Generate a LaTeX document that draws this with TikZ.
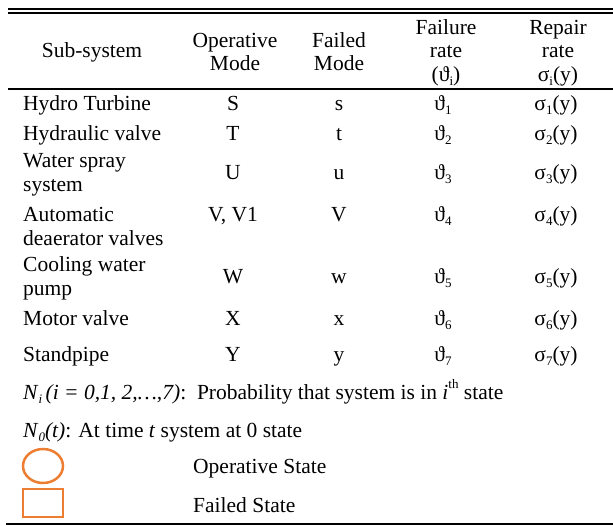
\documentclass[tikz,border=0pt]{standalone}
\usepackage{fontspec}
\usetikzlibrary{shapes.geometric}
\setmainfont{Liberation Serif}
\definecolor{legendorange}{HTML}{ED7D31}
\newcommand\sbx[1]{\raisebox{-0.22em}{\fontsize{13}{13}\selectfont #1}}
\newcommand\spx[1]{\raisebox{0.5em}{\fontsize{13}{13}\selectfont #1}}
\begin{document}
\begin{tikzpicture}[x=1pt,y=-1pt,
  txt/.style={inner sep=0pt, anchor=base, font=\fontsize{21.5}{24}\selectfont},
  lt/.style={txt, anchor=base west},
  rule/.style={line width=1.7pt},
  legend/.style={draw=legendorange, line width=2.5pt}]
\useasboundingbox (0,0) rectangle (613,525);
% rules
\coordinate (r1a) at (8,8.8);  \coordinate (r1b) at (613,8.8);
\coordinate (r2a) at (8,12.8); \coordinate (r2b) at (613,12.8);
\coordinate (r3a) at (8,89);   \coordinate (r3b) at (613,89);
\coordinate (r4a) at (6,523.7);\coordinate (r4b) at (613,523.7);
\draw[rule] (r1a) -- (r1b);
\draw[rule] (r2a) -- (r2b);
\draw[rule] (r3a) -- (r3b);
\draw[line width=2pt] (r4a) -- (r4b);
% header
\node[txt] (h1) at (92,57) {Sub-system};
\node[txt] (h2a) at (235,47) {Operative};
\node[txt] (h2b) at (235,70) {Mode};
\node[txt] (h3a) at (339,47) {Failed};
\node[txt] (h3b) at (339,70) {Mode};
\node[txt] (h4a) at (446,34) {Failure};
\node[txt] (h4b) at (446,57) {rate};
\node[txt] (h4c) at (446,81) {(ϑ\sbx{i})};
\node[txt] (h5a) at (558,34) {Repair};
\node[txt] (h5b) at (558,57) {rate};
\node[txt] (h5c) at (558,81) {σ\sbx{i}(y)};
% rows
\node[lt] (a1) at (23,110) {Hydro Turbine};
\node[lt] (a2) at (23,140) {Hydraulic valve};
\node[lt] (a3a) at (23,167) {Water spray};
\node[lt] (a3b) at (23,191) {system};
\node[lt] (a4a) at (23,221) {Automatic};
\node[lt] (a4b) at (23,245) {deaerator valves};
\node[lt] (a5a) at (23,271) {Cooling water};
\node[lt] (a5b) at (23,295) {pump};
\node[lt] (a6) at (23,325) {Motor valve};
\node[lt] (a7) at (23,361) {Standpipe};
% operative column
\node[txt] (b1) at (233,110) {S};
\node[txt] (b2) at (233,140) {T};
\node[txt] (b3) at (233,179) {U};
\node[txt] (b4) at (233,221) {V, V1};
\node[txt] (b5) at (233,283) {W};
\node[txt] (b6) at (233,325) {X};
\node[txt] (b7) at (233,361) {Y};
% failed column
\node[txt] (c1) at (339,110) {s};
\node[txt] (c2) at (339,140) {t};
\node[txt] (c3) at (339,179) {u};
\node[txt] (c4) at (339,221) {V};
\node[txt] (c5) at (339,283) {w};
\node[txt] (c6) at (339,325) {x};
\node[txt] (c7) at (339,361) {y};
% failure rate column
\node[txt] (d1) at (443,110) {ϑ\sbx{1}};
\node[txt] (d2) at (443,140) {ϑ\sbx{2}};
\node[txt] (d3) at (443,179) {ϑ\sbx{3}};
\node[txt] (d4) at (443,221) {ϑ\sbx{4}};
\node[txt] (d5) at (443,283) {ϑ\sbx{5}};
\node[txt] (d6) at (443,325) {ϑ\sbx{6}};
\node[txt] (d7) at (443,361) {ϑ\sbx{7}};
% repair rate column
\node[txt] (e1) at (556,110) {σ\sbx{1}(y)};
\node[txt] (e2) at (556,140) {σ\sbx{2}(y)};
\node[txt] (e3) at (556,179) {σ\sbx{3}(y)};
\node[txt] (e4) at (556,221) {σ\sbx{4}(y)};
\node[txt] (e5) at (556,283) {σ\sbx{5}(y)};
\node[txt] (e6) at (556,325) {σ\sbx{6}(y)};
\node[txt] (e7) at (556,361) {σ\sbx{7}(y)};
% notes
\node[lt] (n1) at (23,399) {\textit{N}\sbx{\textit{i}}\,\textit{(i = 0,1, 2,…,7)}:~~Probability that system is in \textit{i}\spx{th} state};
\node[lt] (n2) at (23,437) {\textit{N}\sbx{\textit{0}}\textit{(t)}: At time \textit{t} system at 0 state};
% legend
\node[legend, ellipse, minimum width=40pt, minimum height=34pt, inner sep=0pt] (op) at (43,466) {};
\node[legend, rectangle, minimum width=40pt, minimum height=28pt, inner sep=0pt] (fl) at (43,503) {};
\node[lt] (l1) at (193,473) {Operative State};
\node[lt] (l2) at (193,512) {Failed State};
\end{tikzpicture}
\end{document}
